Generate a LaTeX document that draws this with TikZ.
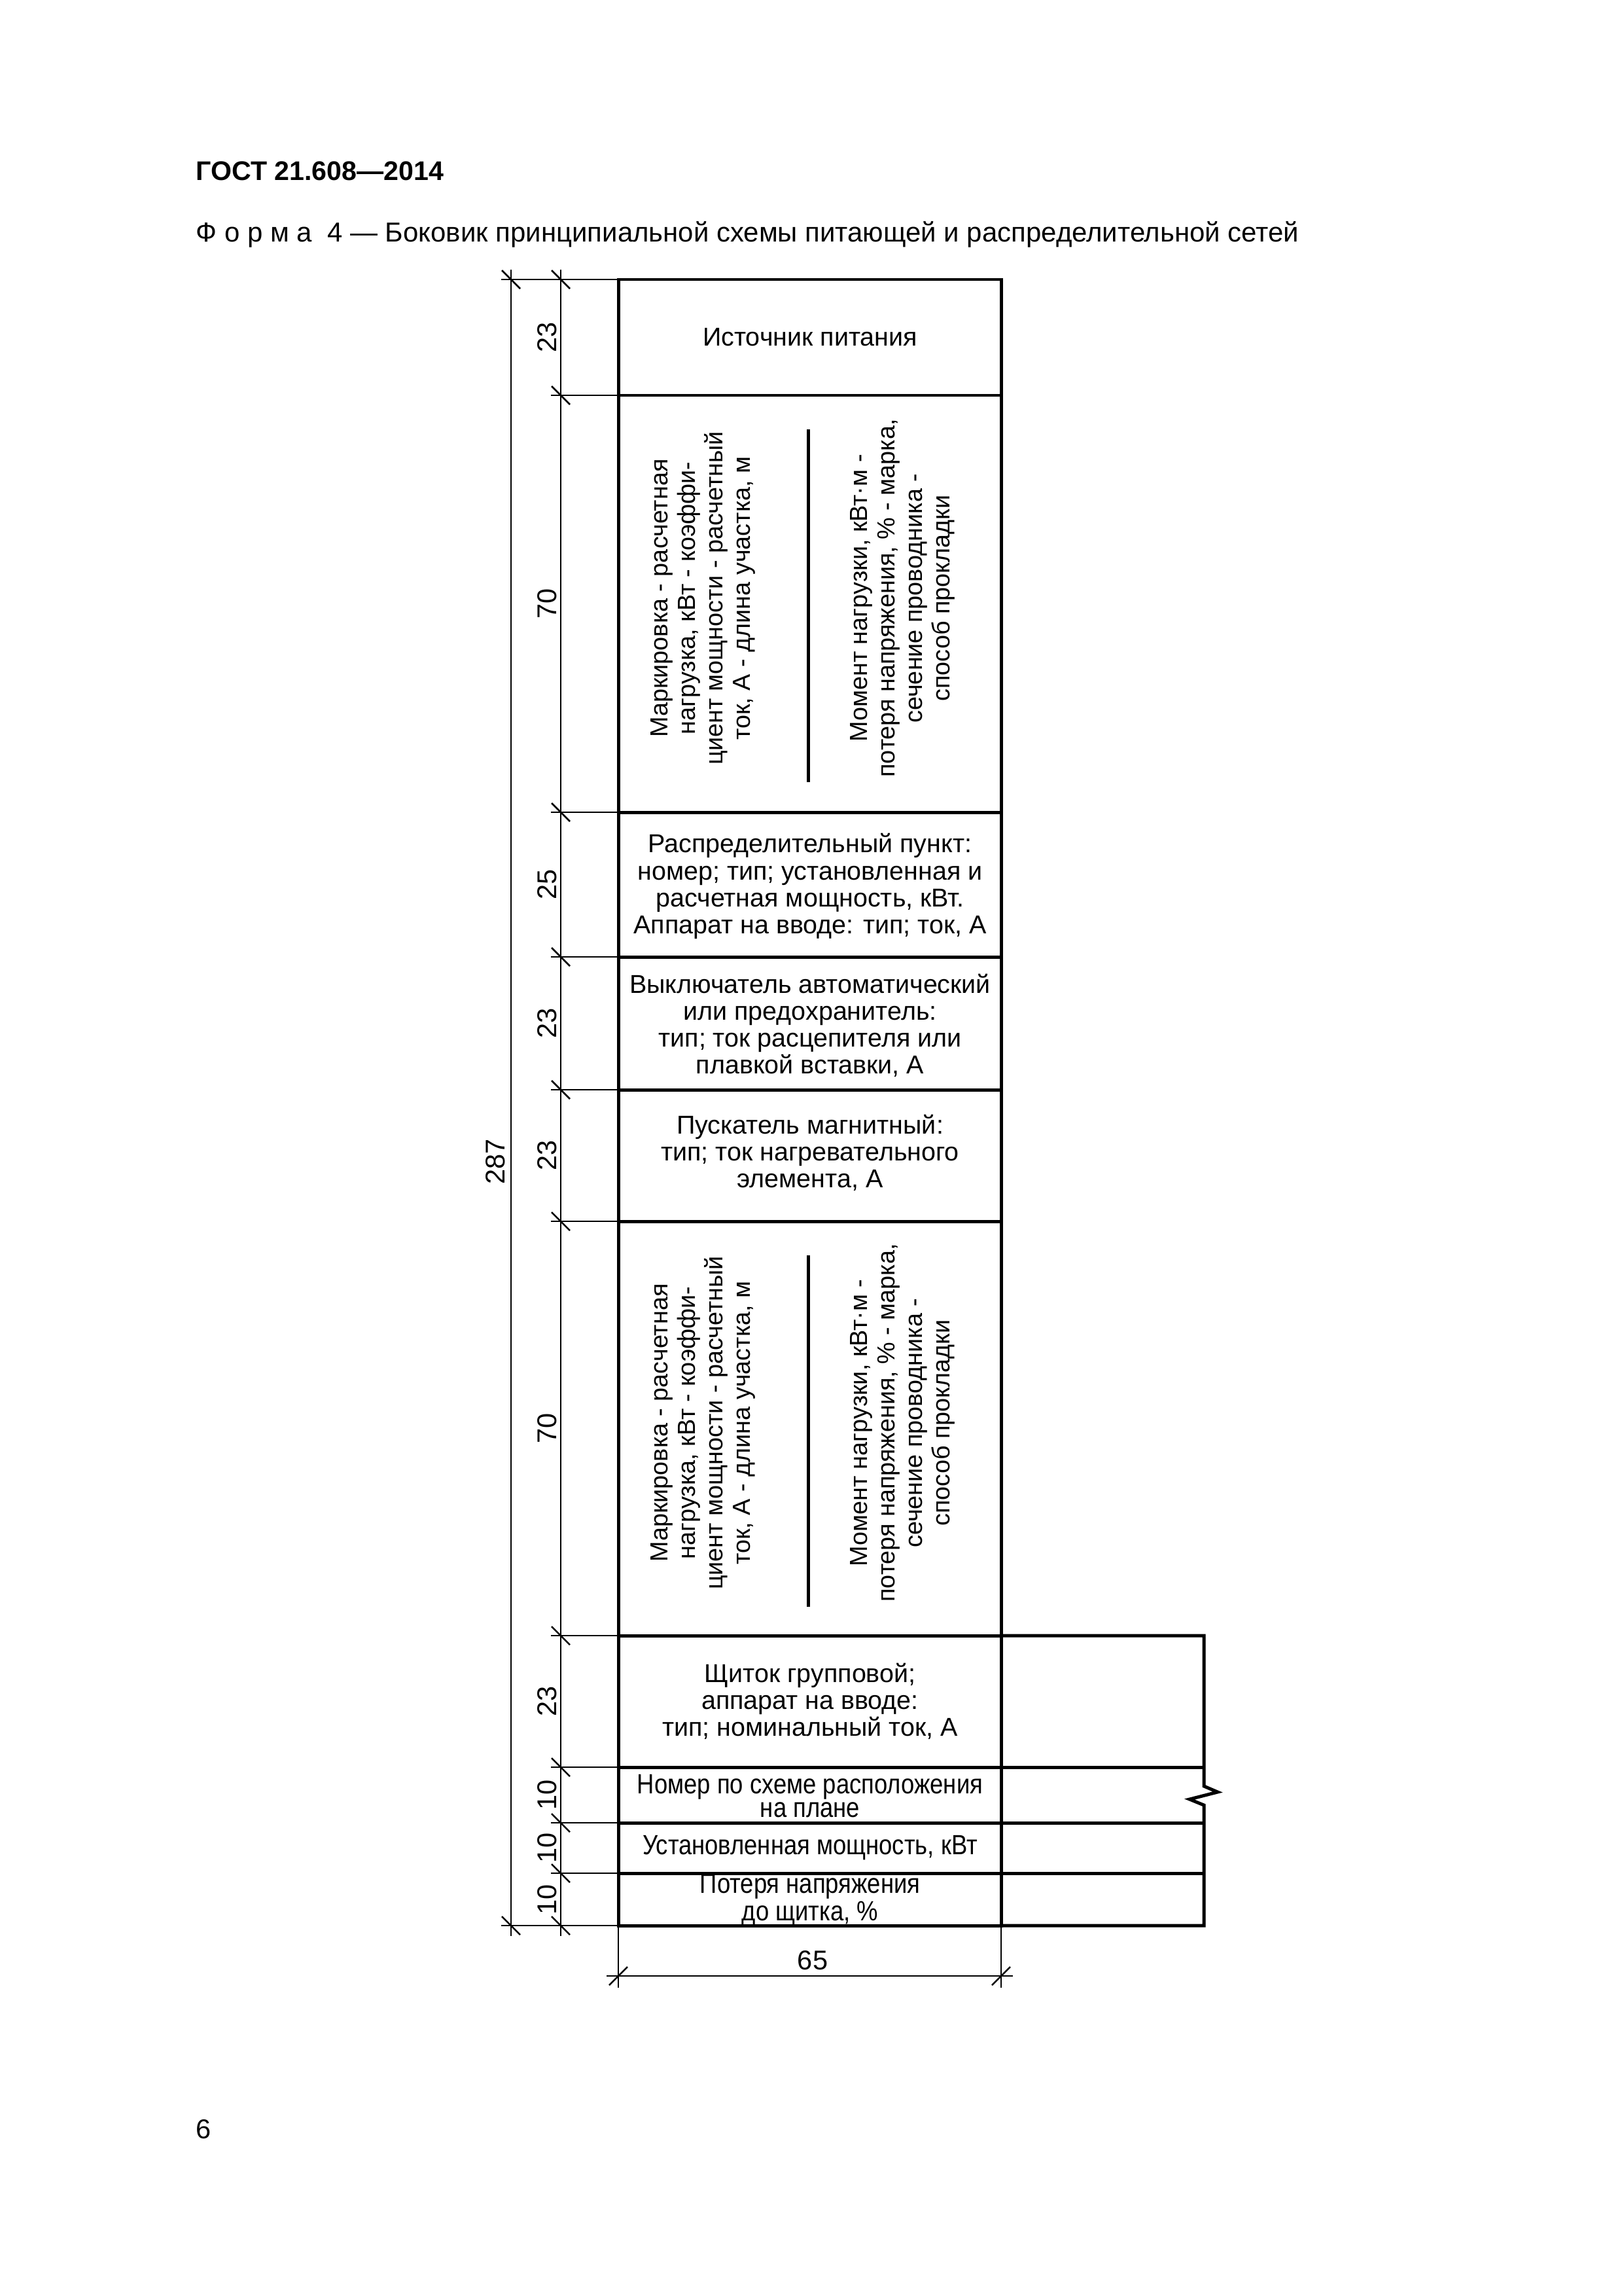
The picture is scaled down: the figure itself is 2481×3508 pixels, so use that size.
\documentclass[tikz,border=0pt]{standalone}
\usepackage{fontspec}
\setmainfont{Liberation Sans}
\newfontfamily\narrowfont[FakeStretch=0.86]{Liberation Sans}
\begin{document}
\begin{tikzpicture}[x=0.084643mm,y=-0.084643mm,
  tbl/.style={line width=1.2pt},
  dimln/.style={line width=0.5pt},
  tickln/.style={line width=0.6pt},
  cell/.style={align=center,font=\fontsize{9.5}{9.9}\selectfont,inner sep=0pt},
  smallcell/.style={align=center,font=\narrowfont\fontsize{10.2}{8.6}\selectfont,inner sep=0pt},
  vert/.style={align=center,rotate=90,font=\fontsize{9.1}{10.1}\selectfont,inner sep=0pt},
  dimnum/.style={rotate=90,font=\fontsize{10}{12}\selectfont,inner sep=0pt},
]
\useasboundingbox (0,0) rectangle (2481,3508);

% header and caption
\node[anchor=base west,inner sep=0pt,font=\bfseries\fontsize{9.9}{12}\selectfont] (hdr) at (299,275) {ГОСТ 21.608—2014};
\node[anchor=base west,inner sep=0pt,font=\fontsize{10.1}{12}\selectfont] (cap) at (299,369) {Ф о р м а\ \ 4 — Боковик принципиальной схемы питающей и распределительной сетей};
\node[anchor=base west,inner sep=0pt,font=\fontsize{10}{12}\selectfont] (pg) at (299,3267) {6};

% table
\draw[tbl] (945,427) rectangle (1530,2942);
\foreach \y in {604,1241,1462,1665,1866,2499}
  \draw[tbl] (945,\y) -- (1530,\y);
\foreach \y in {2700,2785,2862}
  \draw[tbl] (945,\y) -- (1840,\y);
\draw[tbl] (1530,2499) -- (1840,2499) -- (1840,2729) -- (1861,2738) -- (1818,2749) -- (1840,2758) -- (1840,2942) -- (1530,2942);

% separators in 70 rows
\draw[tbl] (1235,656) -- (1235,1195);
\draw[tbl] (1235,1918) -- (1235,2455);

% vertical dimension lines
\draw[dimln] (781,412) -- (781,2958);
\draw[dimln] (857,412) -- (857,2958);
\draw[dimln] (766,427) -- (945,427);
\draw[dimln] (766,2942) -- (945,2942);
\foreach \y in {604,1241,1462,1665,1866,2499,2700,2785,2862}
  \draw[dimln] (842,\y) -- (945,\y);
\foreach \y in {427,2942}
  \draw[tickln] (781,\y) ++(-14,-14) -- ++(28,28);
\foreach \y in {427,604,1241,1462,1665,1866,2499,2700,2785,2862,2942}
  \draw[tickln] (857,\y) ++(-14,-14) -- ++(28,28);

% bottom dimension
\draw[dimln] (945,2942) -- (945,3037);
\draw[dimln] (1530,2942) -- (1530,3037);
\draw[dimln] (927,3019) -- (1548,3019);
\foreach \x in {945,1530}
  \draw[tickln] (\x,3019) ++(-14,14) -- ++(28,-28);
\node[inner sep=0pt,font=\fontsize{10}{12}\selectfont] (d65) at (1242,2995) {65};

% dimension numbers
\node[dimnum] (d287) at (757,1775) {287};
\node[dimnum] (r1) at (836,515) {23};
\node[dimnum] (r2) at (836,922) {70};
\node[dimnum] (r3) at (836,1351) {25};
\node[dimnum] (r4) at (836,1563) {23};
\node[dimnum] (r5) at (836,1765) {23};
\node[dimnum] (r6) at (836,2182) {70};
\node[dimnum] (r7) at (836,2599) {23};
\node[dimnum] (r8) at (836,2742) {10};
\node[dimnum] (r9) at (836,2823) {10};
\node[dimnum] (r10) at (836,2902) {10};

% cell texts
\node[cell] (t1) at (1238,515) {Источник питания};
\node[vert] (t2a) at (1074,914) {Маркировка - расчетная\\нагрузка, кВт - коэффи-\\циент мощности - расчетный\\ток, А - длина участка, м};
\node[vert] (t2b) at (1379,914) {Момент нагрузки, кВт·м -\\потеря напряжения, \% - марка,\\сечение проводника -\\способ прокладки};
\node[cell] (t3) at (1238,1354) {Распределительный пункт:\\номер; тип; установленная и\\расчетная мощность, кВт.\\Аппарат на вводе: тип; ток, А};
\node[cell] (t4) at (1238,1567) {Выключатель автоматический\\или предохранитель:\\тип; ток расцепителя или\\плавкой вставки, А};
\node[cell] (t5) at (1238,1761) {Пускатель магнитный:\\тип; ток нагревательного\\элемента, А};
\node[vert] (t6a) at (1074,2174) {Маркировка - расчетная\\нагрузка, кВт - коэффи-\\циент мощности - расчетный\\ток, А - длина участка, м};
\node[vert] (t6b) at (1379,2174) {Момент нагрузки, кВт·м -\\потеря напряжения, \% - марка,\\сечение проводника -\\способ прокладки};
\node[cell] (t7) at (1238,2599) {Щиток групповой;\\аппарат на вводе:\\тип; номинальный ток, А};
\node[smallcell] (t8) at (1238,2744) {Номер по схеме расположения\\на плане};
\node[smallcell] (t9) at (1238,2823) {Установленная мощность, кВт};
\node[smallcell] (t10) at (1238,2903) {Потеря напряжения\\до щитка, \%};
\end{tikzpicture}
\end{document}
